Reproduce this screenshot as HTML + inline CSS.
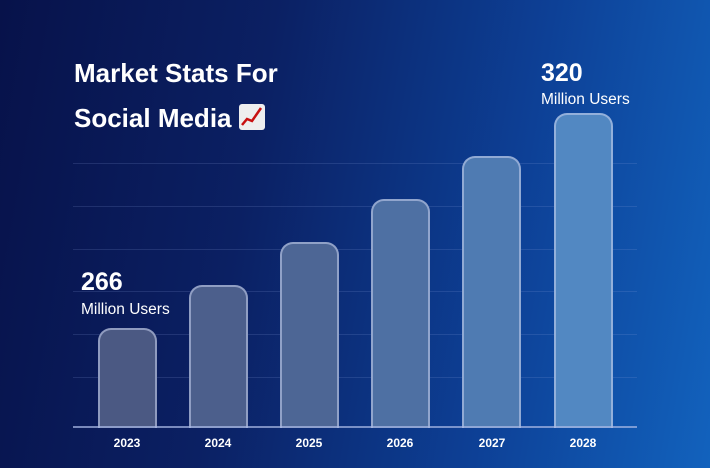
<!DOCTYPE html>
<html><head><style>
body{margin:0;width:710px;height:468px;overflow:hidden;font-family:"Liberation Sans","DejaVu Sans",sans-serif}
.bg{position:absolute;left:0;top:0;width:710px;height:468px;background:linear-gradient(100deg,#07124a 0%,#0b2063 35%,#0d4096 70%,#1262bd 100%)}
.g{position:absolute;left:73px;width:564px;height:1px;background:rgba(140,160,220,0.18)}
.base{position:absolute;left:73px;width:564px;top:426px;height:2px;background:rgba(170,185,230,0.7)}
.bar{position:absolute;width:55px;border:2px solid rgba(200,210,240,0.55);border-bottom:none;border-radius:13px 13px 0 0}
.lab{position:absolute;top:436px;width:80px;text-align:center;color:#fff;font-weight:bold;font-size:12px}
.t{position:absolute;color:#fff;font-weight:bold;white-space:nowrap}
</style></head><body>
<div class="bg"></div>
<div class="g" style="top:163px"></div>
<div class="g" style="top:206px"></div>
<div class="g" style="top:249px"></div>
<div class="g" style="top:291px"></div>
<div class="g" style="top:334px"></div>
<div class="g" style="top:377px"></div>
<div class="bar" style="left:98px;top:328px;height:98px;background:#4b5983"></div>
<div class="bar" style="left:189px;top:285px;height:141px;background:#4c5f8c"></div>
<div class="bar" style="left:280px;top:242px;height:184px;background:#4d6695"></div>
<div class="bar" style="left:371px;top:199px;height:227px;background:#4e70a3"></div>
<div class="bar" style="left:462px;top:156px;height:270px;background:#4f7bb2"></div>
<div class="bar" style="left:554px;top:113px;height:313px;background:#5288c2"></div>
<div class="base"></div>
<div class="lab" style="left:87px">2023</div>
<div class="lab" style="left:178px">2024</div>
<div class="lab" style="left:269px">2025</div>
<div class="lab" style="left:360px">2026</div>
<div class="lab" style="left:452px">2027</div>
<div class="lab" style="left:543px">2028</div>
<div class="t" style="left:74px;top:51px;font-size:26px;line-height:45px">Market Stats For<br>Social Media <span style="display:inline-block;width:26px;height:26px;background:#eee;border-radius:3px;vertical-align:-3px;position:relative"><svg width="26" height="26" style="position:absolute;left:0;top:0"><polyline points="3,21 8,15 13,17 22,4" fill="none" stroke="#c81010" stroke-width="2.5"/></svg></span></div>
<div class="t" style="left:81px;top:268px;font-size:25px">266</div>
<div class="t" style="left:81px;top:301px;font-size:15.5px;font-weight:normal">Million Users</div>
<div class="t" style="left:541px;top:59px;font-size:25px">320</div>
<div class="t" style="left:541px;top:91px;font-size:15.5px;font-weight:normal">Million Users</div>
</body></html>
